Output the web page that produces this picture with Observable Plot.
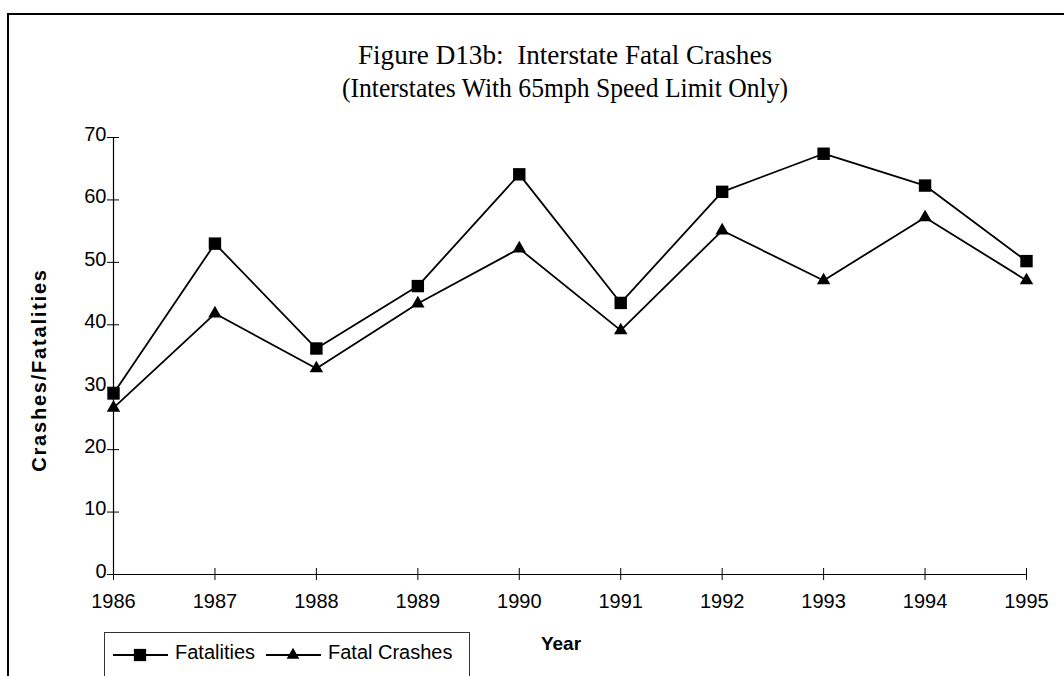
<!DOCTYPE html>
<html><head><meta charset="utf-8">
<script src="https://cdn.jsdelivr.net/npm/d3@7"></script>
<script src="https://cdn.jsdelivr.net/npm/@observablehq/plot@0.6"></script>
<style>
body{margin:0;background:#fff;}
#wrap{position:relative;width:1064px;height:676px;overflow:hidden;background:#fff;font-family:"Liberation Sans",Arial,sans-serif;color:#000;}
#frame{position:absolute;left:7px;top:13px;width:1100px;height:700px;border-top:2px solid #000;border-left:2px solid #000;}
#chart{position:absolute;left:0;top:0;}
.title{position:absolute;left:0;width:1130px;text-align:center;font-family:"Liberation Serif","Times New Roman",serif;font-size:28px;line-height:28px;white-space:nowrap;transform-origin:565px 0;}
#ylab{position:absolute;left:39px;top:370px;transform:translate(-50%,-50%) rotate(-90deg);font-weight:bold;font-size:20px;letter-spacing:1.8px;white-space:nowrap;}
#xlab{position:absolute;left:561px;top:644px;transform:translate(-50%,-50%);font-weight:bold;font-size:19px;white-space:nowrap;}
#legend{position:absolute;left:104px;top:632px;width:364px;height:60px;border:1px solid #333;}
.leg{position:absolute;top:4px;display:flex;align-items:center;font-size:20px;white-space:nowrap;}
</style></head>
<body>
<div id="wrap">
  <div id="frame"></div>
  <div id="chart"></div>
  <div class="title" style="top:41px;transform:scaleX(0.97)">Figure D13b:&nbsp; Interstate Fatal Crashes</div>
  <div class="title" style="top:74px;transform:scaleX(0.915)">(Interstates With 65mph Speed Limit Only)</div>
  <div id="ylab">Crashes/Fatalities</div>
  <div id="xlab">Year</div>
  <div id="legend"></div>
</div>
<script>
const years = [1986, 1987, 1988, 1989, 1990, 1991, 1992, 1993, 1994, 1995];
const fatalities = [29.0, 53.0, 36.2, 46.2, 64.1, 43.5, 61.3, 67.4, 62.3, 50.2];
const fatalCrashes = [26.7, 41.8, 33.0, 43.4, 52.2, 39.1, 55.1, 47.1, 57.2, 47.1];
const yTicks = [0, 10, 20, 30, 40, 50, 60, 70];
const seriesNames = ["Fatalities", "Fatal Crashes"];
const seriesSymbols = ["square", "triangle"];

const rows = [];
years.forEach((yr, i) => {
  rows.push({year: yr, value: fatalities[i], series: seriesNames[0]});
  rows.push({year: yr, value: fatalCrashes[i], series: seriesNames[1]});
});
const fat = rows.filter(d => d.series === seriesNames[0]);
const cr = rows.filter(d => d.series === seriesNames[1]);

const plot = Plot.plot({
  width: 1064,
  height: 676,
  marginLeft: 113,
  marginRight: 38,
  marginTop: 137,
  marginBottom: 102,
  style: {fontFamily: "'Liberation Sans', Arial, sans-serif", fontSize: "20px", color: "#000", background: "transparent"},
  x: {domain: [years[0], years[years.length - 1]], axis: null, label: null},
  y: {domain: [0, 70], axis: null, label: null},
  marks: [
    Plot.ruleY([0], {stroke: "#000", strokeWidth: 1.2}),
    Plot.ruleX([years[0]], {stroke: "#000", strokeWidth: 1.2}),
    Plot.axisX(years, {tickSize: 12, dy: -6, tickFormat: () => "", stroke: "#000", label: null}),
    Plot.axisX(years, {tickSize: 0, tickPadding: 19, tickFormat: d => String(d), fontSize: 20, fill: "#000", label: null}),
    Plot.axisY(yTicks, {tickSize: 12, dx: 6, tickFormat: () => "", stroke: "#000", label: null}),
    Plot.axisY(yTicks, {tickSize: 0, tickPadding: 7, dy: -3, tickFormat: d => String(d), fontSize: 20, fill: "#000", label: null}),
    Plot.line(fat, {x: "year", y: "value", stroke: "#000", strokeWidth: 1.8}),
    Plot.line(cr, {x: "year", y: "value", stroke: "#000", strokeWidth: 1.8}),
    Plot.dot(fat, {x: "year", y: "value", symbol: seriesSymbols[0], r: 7, fill: "#000", stroke: "none"}),
    Plot.dot(cr, {x: "year", y: "value", symbol: seriesSymbols[1], r: 5, fill: "#000", stroke: "none"})
  ]
});
document.getElementById("chart").appendChild(plot);

// legend
const legend = document.getElementById("legend");
const legItems = [
  {name: seriesNames[0], sym: seriesSymbols[0], left: 6},
  {name: seriesNames[1], sym: seriesSymbols[1], left: 159}
];
legItems.forEach(it => {
  const div = document.createElement("div");
  div.className = "leg";
  div.style.left = it.left + "px";
  const svg = d3.create("svg").attr("width", 58).attr("height", 30).style("margin-right", "6px");
  svg.append("line").attr("x1", 2).attr("x2", 57).attr("y1", 18).attr("y2", 18).attr("stroke", "#000").attr("stroke-width", 1.8);
  const sym = it.sym === "square" ? d3.symbolSquare : d3.symbolTriangle;
  const size = it.sym === "square" ? 150 : 70;
  svg.append("path").attr("d", d3.symbol(sym, size)()).attr("transform", "translate(29,18)").attr("fill", "#000");
  div.appendChild(svg.node());
  const span = document.createElement("span");
  span.textContent = it.name;
  div.appendChild(span);
  legend.appendChild(div);
});
</script>
</body></html>
